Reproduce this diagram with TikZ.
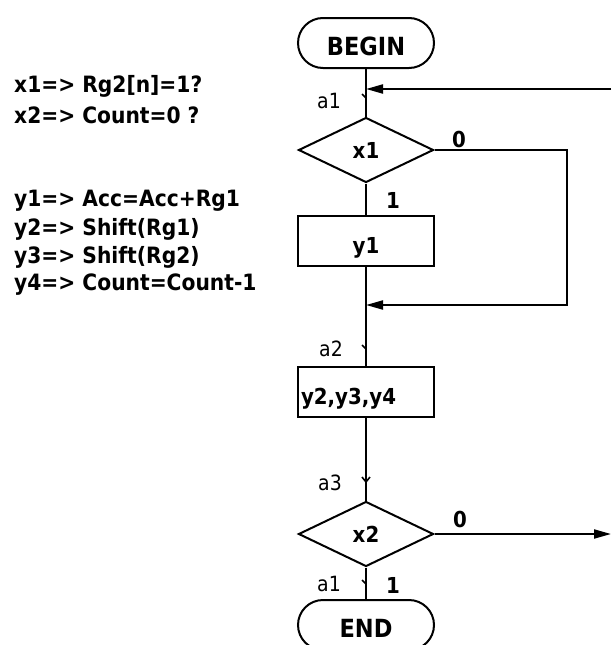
\documentclass[tikz,border=0pt]{standalone}
\usepackage{fontspec}
\setmainfont{DejaVu Sans}
\newfontfamily\narrowsans[FakeStretch=0.9]{DejaVu Sans}
\usetikzlibrary{shapes.geometric,arrows.meta}

\tikzset{
  wire/.style={line width=2pt},
  arr/.style={wire,-{Triangle[length=17pt,width=9pt]}},
  tickmark/.style={line width=1.6pt},
  boxbase/.style={draw,line width=2pt,minimum width=136pt,minimum height=50pt,
                  text height=12pt,text depth=0pt,
                  font=\narrowsans\fontsize{22}{24}\selectfont\bfseries,inner sep=0pt},
  term/.style={boxbase,rounded corners=25pt,font=\narrowsans\fontsize{25}{27}\selectfont\bfseries},
  proc/.style={boxbase,rectangle},
  cond/.style={draw,diamond,line width=2pt,minimum width=135pt,minimum height=65pt,
               inner sep=0pt,font=\narrowsans\fontsize{22}{24}\selectfont\bfseries},
  legend/.style={anchor=west,inner sep=0pt,font=\narrowsans\fontsize{22.5}{24}\selectfont\bfseries},
  state/.style={inner sep=0pt,font=\narrowsans\fontsize{21}{23}\selectfont},
  branch/.style={inner sep=0pt,font=\narrowsans\fontsize{22}{24}\selectfont\bfseries},
}

\begin{document}
\begin{tikzpicture}[x=1pt,y=-1pt]
\useasboundingbox (0,0) rectangle (611,645);

% legend: conditions and operations
\node[legend] (lx1) at (14,86)  {x1=> Rg2[n]=1?};
\node[legend] (lx2) at (14,115) {x2=> Count=0 ?};
\node[legend] (ly1) at (14,201) {y1=> Acc=Acc+Rg1};
\node[legend] (ly2) at (14,229) {y2=> Shift(Rg1)};
\node[legend] (ly3) at (14,257) {y3=> Shift(Rg2)};
\node[legend] (ly4) at (14,285) {y4=> Count=Count-1};

% flowchart blocks
\node[term] (begin) at (366,43)  {\raisebox{-6pt}{BEGIN}};
\node[cond] (x1)    at (366,150) {x1};
\node[proc] (y1)    at (366,241) {\raisebox{-6pt}{y1}};
\node[proc,text width=130pt,align=left,inner xsep=2pt] (y234) at (366,392)
      {\raisebox{-6pt}{y2,y3,y4}};
\node[cond] (x2)    at (366,534) {x2};
\node[term] (end)   at (366,625) {\raisebox{-6pt}{END}};

% junction points on the main line
\coordinate (j1) at (366,89);
\coordinate (m1) at (366,305);
\coordinate (rt) at (611,89);
\coordinate (c1) at (567,150);
\coordinate (c2) at (567,305);
\coordinate (rb) at (611,534);

% main line
\draw[wire] (begin.south) -- (x1.north);
\draw[wire] (x1.south) -- (y1.north);
\draw[wire] (y1.south) -- (y234.north);
\draw[wire] (y234.south) -- (x2.north);
\draw[wire] (x2.south) -- (end.north);

% return into a1 and bypass of y1
\draw[arr] (rt) -- (j1);
\draw[arr] (x1.east) -- (c1) -- (c2) -- (m1);
\draw[arr] (x2.east) -- (rb);

% state marks
\coordinate (t1) at (366,98);
\coordinate (t2) at (366,349);
\coordinate (t3) at (366,482);
\coordinate (t4) at (366,584);
\draw[tickmark] (t1) ++(-4,-4) -- (t1);
\draw[tickmark] (t2) ++(-4,-4) -- (t2);
\draw[tickmark] (t3) ++(-4,-5) -- (t3) -- ++(4,-5);
\draw[tickmark] (t4) ++(-4,-4) -- (t4);

% state labels
\node[state] (s1) at (329,101) {a1};
\node[state] (s2) at (331,349) {a2};
\node[state] (s3) at (330,483) {a3};
\node[state] (s4) at (329,584) {a1};

% branch labels
\node[branch] (b0a) at (459,139) {0};
\node[branch] (b1a) at (393,200) {1};
\node[branch] (b0b) at (460,519) {0};
\node[branch] (b1b) at (393,585) {1};
\end{tikzpicture}
\end{document}
